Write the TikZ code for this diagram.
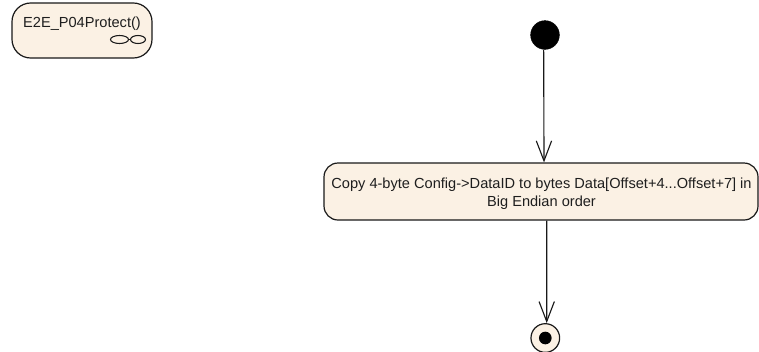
\documentclass[tikz,border=0pt]{standalone}
\usepackage{fontspec}
\setmainfont{Liberation Sans}
\usetikzlibrary{arrows.meta,shapes.geometric}
\definecolor{umlfill}{RGB}{251,241,228}
\definecolor{umltext}{RGB}{30,30,30}
\tikzset{
  umlbox/.style={draw=black!90, line width=0.9pt, fill=umlfill, rounded corners=10.5pt, inner sep=0pt},
  umllabel/.style={inner sep=0pt, align=center, text=umltext, font=\fontsize{10.95pt}{13.5pt}\selectfont},
  flow/.style={draw=black!90, line width=0.85pt, -{Straight Barb[length=15pt,width=11.5pt,line width=0.85pt]}},
  startdot/.style={circle, fill=black, draw=black, inner sep=0pt, minimum size=21.5pt},
  enddot/.style={circle, fill=umlfill, draw=black!90, line width=0.9pt, inner sep=0pt, minimum size=21.5pt},
  enddotcore/.style={circle, fill=black, inner sep=0pt, minimum size=9.5pt},
  bubble/.style={ellipse, draw=black!90, line width=0.8pt, fill=none, inner sep=0pt}
}
\begin{document}
\begin{tikzpicture}[x=0.75pt,y=-0.75pt]
\useasboundingbox (0,0) rectangle (759,351);
\node[umlbox, rounded corners=14pt, minimum width=105pt, minimum height=41.25pt] (sub) at (82,30.5) {};
\node[umllabel] (subtext) at (82,23.5) {E2E\_P04Protect()};
\node[bubble, minimum width=13.5pt, minimum height=6pt] (b1) at (119.5,39.5) {};
\node[bubble, minimum width=11.25pt, minimum height=6pt] (b2) at (138,39.5) {};
\draw[draw=black!90, line width=0.8pt] (b1) -- (b2);
\node[startdot] (init) at (545,35) {};
\node[umlbox, minimum width=325.5pt, minimum height=42.75pt] (act) at (541,191.5) {};
\node[umllabel] (acttext) at (541.5,193.5) {Copy 4-byte Config->DataID to bytes Data[Offset+4...Offset+7] in\\Big Endian order};
\node[enddot] (fin) at (545.3,338) {};
\node[enddotcore] (fincore) at (545.3,338) {};
\draw[flow] ([xshift=-1pt]init.south) -- ([xshift=2.25pt]act.north);
\draw[flow] ([xshift=4.27pt]act.south) -- ([xshift=1.05pt]fin.north);
\end{tikzpicture}
\end{document}
